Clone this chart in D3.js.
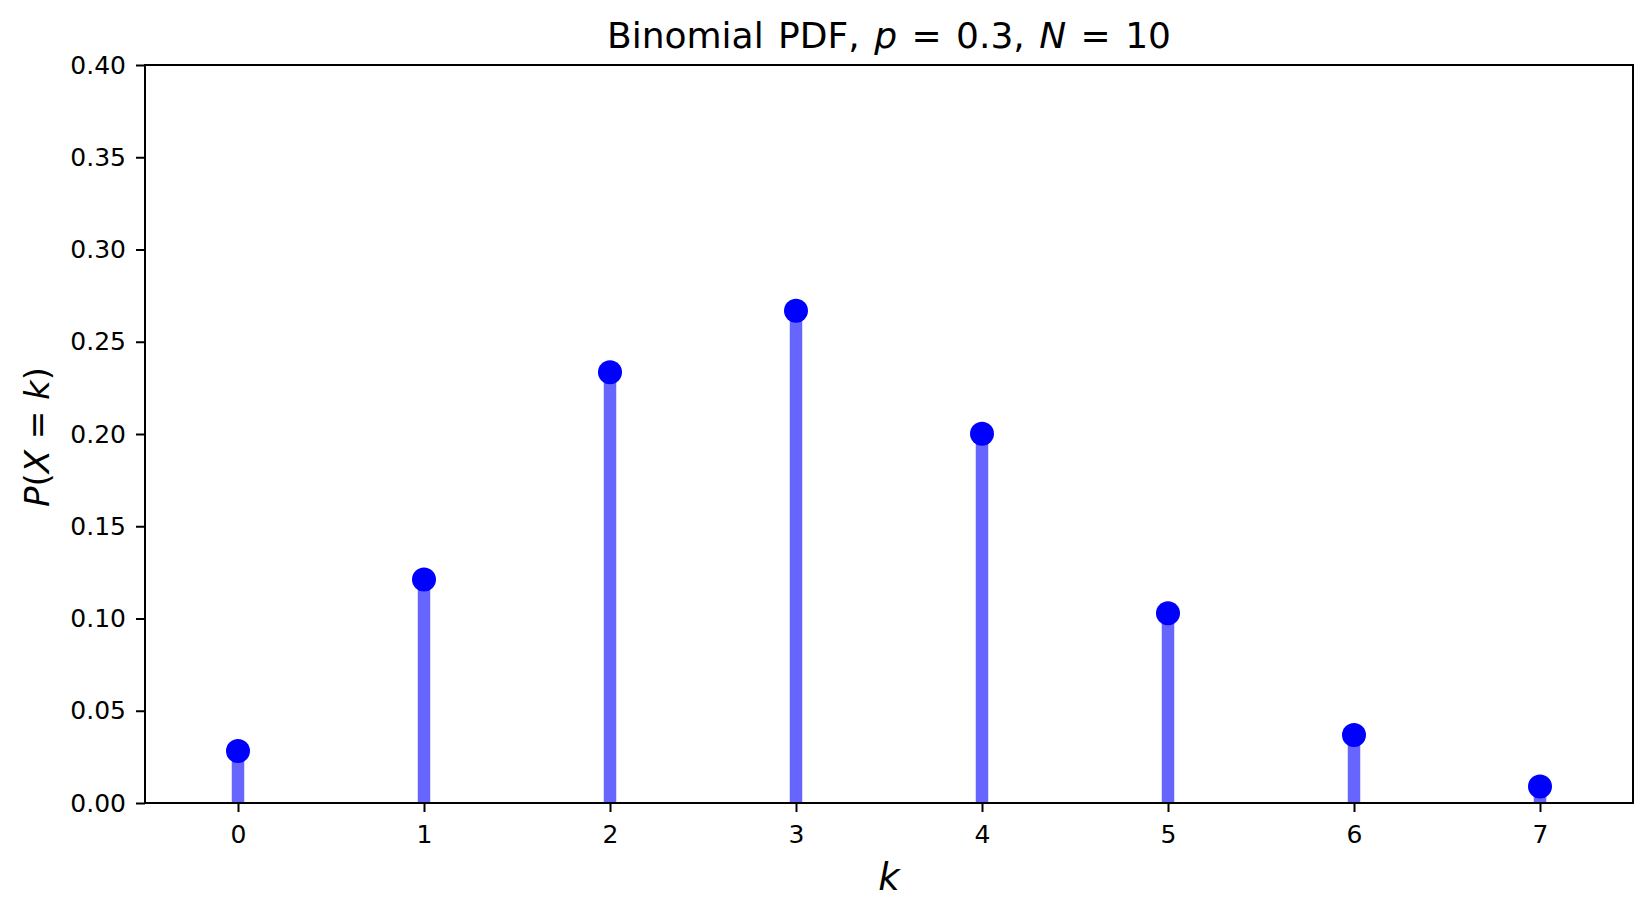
<!DOCTYPE html>
<html>
<head>
<meta charset="utf-8">
<script src="https://cdn.jsdelivr.net/npm/d3@7"></script>
<style>
  html, body { margin: 0; padding: 0; background: #fff; }
  svg text { font-family: "DejaVu Sans", sans-serif; fill: #000; }
</style>
</head>
<body>
<svg id="chart"></svg>
<script>
// binomial pmf values (p = 0.3, N = 10)
const ks = [0, 1, 2, 3, 4, 5, 6, 7];
const probs = [0.0282, 0.1211, 0.2335, 0.2668, 0.2001, 0.1029, 0.0368, 0.0090];
const yTicks = [0, 0.05, 0.10, 0.15, 0.20, 0.25, 0.30, 0.35, 0.40];

const width = 1652;
const height = 916;
const margin = { top: 65, right: 19, bottom: 113, left: 145 };

const svg = d3.select("#chart")
  .attr("width", width)
  .attr("height", height);

const x = d3.scaleLinear()
  .domain([-0.5, 7.5])
  .range([margin.left, width - margin.right]);

const y = d3.scaleLinear()
  .domain([0, 0.4])
  .range([height - margin.bottom, margin.top]);

// stems
svg.append("g")
  .selectAll("line")
  .data(ks)
  .enter().append("line")
  .attr("x1", (d) => x(d))
  .attr("x2", (d) => x(d))
  .attr("y1", y(0))
  .attr("y2", (d, i) => y(probs[i]))
  .attr("stroke", "#0000ff")
  .attr("stroke-opacity", 0.6)
  .attr("stroke-width", 12.5);

// markers
svg.append("g")
  .selectAll("circle")
  .data(ks)
  .enter().append("circle")
  .attr("cx", (d) => x(d))
  .attr("cy", (d, i) => y(probs[i]))
  .attr("r", 12)
  .attr("fill", "#0000ff");

// axes
const xAxis = svg.append("g")
  .attr("transform", `translate(0,${y(0)})`)
  .call(d3.axisBottom(x).tickValues(ks).tickFormat(d3.format("d")).tickSize(9).tickPadding(13).tickSizeOuter(0));

const yAxis = svg.append("g")
  .attr("transform", `translate(${x(-0.5)},0)`)
  .call(d3.axisLeft(y).tickValues(yTicks).tickFormat(d3.format(".2f")).tickSize(9).tickPadding(10).tickSizeOuter(0));

[xAxis, yAxis].forEach((g) => {
  g.select(".domain").remove();
  g.selectAll(".tick line").attr("stroke", "#000").attr("stroke-width", 2);
  g.selectAll(".tick text").style("font-size", "25px");
});

// frame
svg.append("rect")
  .attr("x", x(-0.5))
  .attr("y", y(0.4))
  .attr("width", x(7.5) - x(-0.5))
  .attr("height", y(0) - y(0.4))
  .attr("fill", "none")
  .attr("stroke", "#000")
  .attr("stroke-width", 2);

// title
const title = svg.append("text")
  .attr("x", (x(-0.5) + x(7.5)) / 2)
  .attr("y", 48)
  .attr("text-anchor", "middle")
  .style("font-size", "36px")
  .style("word-spacing", "3px");
title.append("tspan").text("Binomial PDF, ");
title.append("tspan").style("font-style", "italic").text("p");
title.append("tspan").text(" = 0.3, ");
title.append("tspan").style("font-style", "italic").text("N");
title.append("tspan").text(" = 10");

// x label
svg.append("text")
  .attr("x", (x(-0.5) + x(7.5)) / 2)
  .attr("y", 890)
  .attr("text-anchor", "middle")
  .style("font-size", "37px")
  .style("font-style", "italic")
  .text("k");

// y label
const ylab = svg.append("text")
  .attr("transform", `translate(49,${(y(0) + y(0.4)) / 2 + 3}) rotate(-90)`)
  .attr("text-anchor", "middle")
  .style("font-size", "34px");
ylab.append("tspan").style("font-style", "italic").text("P");
ylab.append("tspan").text("(");
ylab.append("tspan").style("font-style", "italic").text("X");
ylab.append("tspan").text(" = ");
ylab.append("tspan").style("font-style", "italic").text("k");
ylab.append("tspan").text(")");
</script>
</body>
</html>
